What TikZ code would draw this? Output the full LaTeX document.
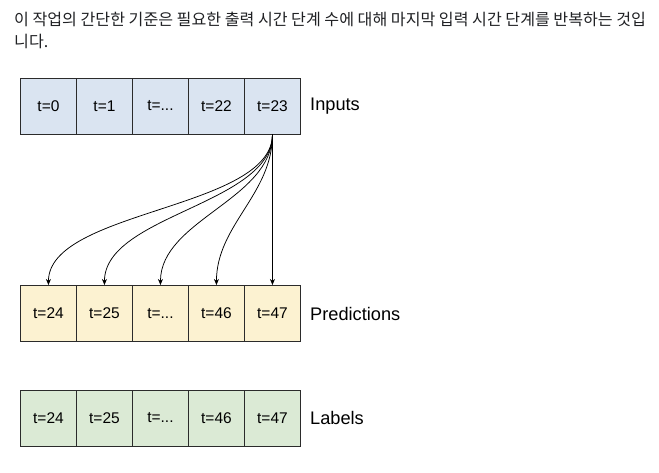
\documentclass[tikz,border=0pt]{standalone}
\usepackage{fontspec}
\setmainfont{Liberation Sans}
\newfontfamily\krfont{Noto Sans CJK KR}
\usetikzlibrary{arrows.meta}
\definecolor{inblue}{HTML}{DAE4F1}
\definecolor{predyellow}{HTML}{FCF2D1}
\definecolor{labgreen}{HTML}{DBEAD5}
\definecolor{edgegray}{HTML}{2B2B2B}
\definecolor{txtgray}{HTML}{202124}
\tikzset{
  cell/.style={draw=edgegray, line width=0.9pt, minimum width=56pt, minimum height=56pt,
    inner sep=0pt, anchor=north west, font=\fontsize{15.5}{18}\selectfont, text=black},
  rowlabel/.style={anchor=west, inner sep=0pt, font=\fontsize{18.2}{20}\selectfont, text=black},
  conn/.style={draw=black, line width=0.75pt, -{Stealth[length=6pt,width=5pt]}},
  para/.style={anchor=west, inner sep=0pt, text=txtgray, font=\krfont\fontsize{16.1}{19}\selectfont}
}
\begin{document}
\begin{tikzpicture}[x=1pt,y=-1pt]
\useasboundingbox (0,0) rectangle (659,472);
\fill[white] (0,0) rectangle (659,472);
% paragraph
\node[para] (p1) at (14,19.5) {이 작업의 간단한 기준은 필요한 출력 시간 단계 수에 대해 마지막 입력 시간 단계를 반복하는 것입};
\node[para] (p2) at (14,41) {니다.};
% inputs
\node[cell, fill=inblue] (i0) at (20,77.5) {t=0};
\node[cell, fill=inblue] (i1) at (76,77.5) {t=1};
\node[cell, fill=inblue] (i2) at (132,77.5) {t=...};
\node[cell, fill=inblue] (i3) at (188,77.5) {t=22};
\node[cell, fill=inblue] (i4) at (244,77.5) {t=23};
\node[rowlabel] (lin) at (310,106) {Inputs};
% predictions
\node[cell, fill=predyellow] (p0) at (20,285) {t=24};
\node[cell, fill=predyellow] (p1c) at (76,285) {t=25};
\node[cell, fill=predyellow] (p2c) at (132,285) {t=...};
\node[cell, fill=predyellow] (p3c) at (188,285) {t=46};
\node[cell, fill=predyellow] (p4c) at (244,285) {t=47};
\node[rowlabel] (lpred) at (310,314) {Predictions};
% labels
\node[cell, fill=labgreen] (l0) at (20,389.5) {t=24};
\node[cell, fill=labgreen] (l1) at (76,389.5) {t=25};
\node[cell, fill=labgreen] (l2) at (132,389.5) {t=...};
\node[cell, fill=labgreen] (l3) at (188,389.5) {t=46};
\node[cell, fill=labgreen] (l4) at (244,389.5) {t=47};
\node[rowlabel] (llab) at (310,418) {Labels};
% connectors
\draw[conn] (i4.south) .. controls ++(0,75) and ++(0,-75) .. (p0.north);
\draw[conn] (i4.south) .. controls ++(0,70) and ++(0,-70) .. (p1c.north);
\draw[conn] (i4.south) .. controls ++(0,65) and ++(0,-65) .. (p2c.north);
\draw[conn] (i4.south) .. controls ++(0,60) and ++(0,-60) .. (p3c.north);
\draw[conn] (i4.south) -- (p4c.north);
\end{tikzpicture}
\end{document}
